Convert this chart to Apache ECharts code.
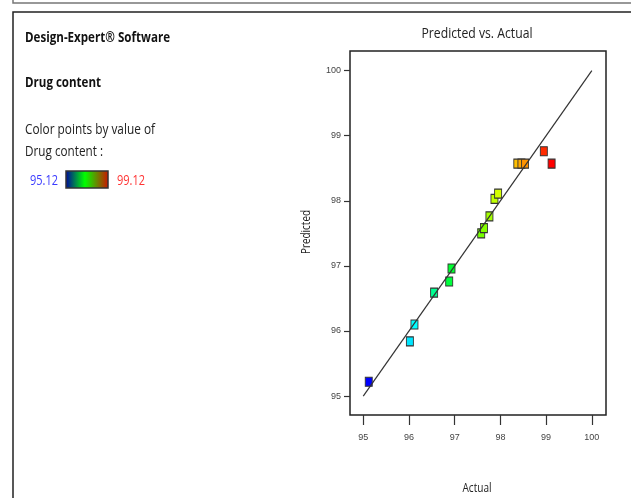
<!DOCTYPE html>
<html>
<head>
<meta charset="utf-8">
<script src="https://cdn.jsdelivr.net/npm/echarts@6/dist/echarts.min.js"></script>
<style>
html,body{margin:0;padding:0;background:#fff;}
#main{width:631px;height:498px;}
</style>
</head>
<body>
<div id="main"></div>
<script>
// ---- data ----
const actual    = [95.12, 96.02, 96.12, 96.55, 96.88, 96.93, 97.58, 97.64, 97.76, 97.87, 97.95, 98.37, 98.46, 98.54, 98.95, 99.12];
const predicted = [95.22, 95.84, 96.10, 96.59, 96.76, 96.96, 97.50, 97.58, 97.76, 98.03, 98.11, 98.57, 98.57, 98.57, 98.76, 98.57];
const xTicks = [95, 96, 97, 98, 99, 100];
const yTicks = [95, 96, 97, 98, 99, 100];
const diagLine = [[95, 95], [100, 100]];
const colorMin = 95.12;
const colorMax = 99.12;

const points = actual.map((a, i) => [a, predicted[i]]);

const FONT = '"Open Sans", "Noto Sans", sans-serif';
const mctx = document.createElement('canvas').getContext('2d');
function fit(text, size, weight, target) {
  mctx.font = weight + ' ' + size + 'px ' + FONT;
  const w = mctx.measureText(text).width;
  return target / w;
}
function txt(text, x, y, size, weight, target, color, align, rot) {
  return {
    type: 'text', x: x, y: y, rotation: rot || 0,
    scaleX: fit(text, size, weight, target), scaleY: 1,
    style: { text: text, fontSize: size, fontWeight: weight, fontFamily: FONT,
             fill: color || '#111', textAlign: align || 'left', textVerticalAlign: 'middle' },
    z: 10
  };
}

const chart = echarts.init(document.getElementById('main'), null, {renderer: 'canvas'});
const option = {
  animation: false,
  backgroundColor: '#fff',
  grid: { left: 350, top: 51, width: 256, height: 364, show: true,
          borderColor: '#222', borderWidth: 1.5, backgroundColor: 'transparent' },
  xAxis: {
    type: 'value', min: 94.71, max: 100.31,
    axisLine: { show: false },
    splitLine: { show: false },
    axisTick: { show: true, customValues: xTicks, length: 10, lineStyle: { color: '#333', width: 1.2 } },
    axisLabel: { customValues: xTicks, fontSize: 9, color: '#444', margin: 18,
                 fontFamily: '"Liberation Sans", Arial, sans-serif' }
  },
  yAxis: {
    type: 'value', min: 94.71, max: 100.3,
    axisLine: { show: false },
    splitLine: { show: false },
    axisTick: { show: true, customValues: yTicks, length: 6, lineStyle: { color: '#333', width: 1.2 } },
    axisLabel: { customValues: yTicks, fontSize: 9, color: '#444', margin: 9,
                 fontFamily: '"Liberation Sans", Arial, sans-serif' }
  },
  visualMap: {
    show: false, type: 'continuous', dimension: 0, seriesIndex: 0,
    min: colorMin, max: colorMax,
    inRange: { color: ['#0000ff', '#00ffff', '#00ff00', '#ffff00', '#ff0000'] }
  },
  series: [
    {
      type: 'scatter', data: points, symbol: 'rect', symbolSize: [7, 9],
      itemStyle: { borderColor: '#333', borderWidth: 1, opacity: 1 },
      z: 2
    },
    {
      type: 'line', data: diagLine, symbol: 'none', silent: true,
      lineStyle: { color: '#333', width: 1.2 }, z: 3
    }
  ],
  graphic: [
    { type: 'rect', shape: { x: 13, y: -10, width: 700, height: 13 },
      style: { fill: 'none', stroke: '#777', lineWidth: 1.5 }, z: 1 },
    { type: 'rect', shape: { x: 13, y: 12, width: 700, height: 600 },
      style: { fill: 'none', stroke: '#222', lineWidth: 1.5 }, z: 1 },
    txt('Design-Expert® Software', 25, 38, 14, 'bold', 145),
    txt('Drug content', 25, 83, 14, 'bold', 76),
    txt('Color points by value of', 25, 130, 14, 'normal', 130, '#222'),
    txt('Drug content :', 25, 152, 14, 'normal', 78, '#222'),
    txt(String(colorMin.toFixed(2)), 30, 181, 14, 'normal', 28, '#3a3aff'),
    txt(String(colorMax.toFixed(2)), 117, 181, 14, 'normal', 28, '#ff3333'),
    { type: 'rect', shape: { x: 66, y: 171, width: 42, height: 17 },
      style: { stroke: '#333', lineWidth: 1.5,
        fill: new echarts.graphic.LinearGradient(0, 0, 1, 0, [
          { offset: 0, color: '#0000a0' },
          { offset: 0.45, color: '#00ff00' },
          { offset: 1, color: '#d01000' }
        ]) }, z: 10 },
    txt('Predicted vs. Actual', 477, 34, 15, 'normal', 111, '#222', 'center'),
    txt('Actual', 477, 488, 13, 'normal', 29, '#222', 'center'),
    txt('Predicted', 306, 232, 13, 'normal', 44, '#222', 'center', Math.PI / 2)
  ]
};
chart.setOption(option);
</script>
</body>
</html>
